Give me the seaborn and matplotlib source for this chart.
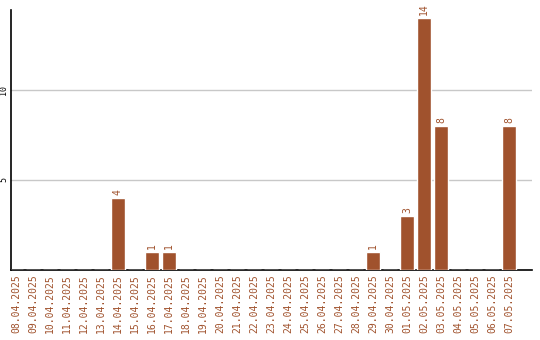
import matplotlib
matplotlib.use("Agg")
import matplotlib.pyplot as plt
import seaborn as sns
import pandas as pd

dates = ["08.04.2025", "09.04.2025", "10.04.2025", "11.04.2025", "12.04.2025",
         "13.04.2025", "14.04.2025", "15.04.2025", "16.04.2025", "17.04.2025",
         "18.04.2025", "19.04.2025", "20.04.2025", "21.04.2025", "22.04.2025",
         "23.04.2025", "24.04.2025", "25.04.2025", "26.04.2025", "27.04.2025",
         "28.04.2025", "29.04.2025", "30.04.2025", "01.05.2025", "02.05.2025",
         "03.05.2025", "04.05.2025", "05.05.2025", "06.05.2025", "07.05.2025"]
values = [0, 0, 0, 0, 0, 0, 4, 0, 1, 1,
          0, 0, 0, 0, 0, 0, 0, 0, 0, 0,
          0, 1, 0, 3, 14, 8, 0, 0, 0, 8]
y_ticks = [5, 10]

color = "#A0522D"
sns.set_style("white")
plt.rcParams['font.family'] = ['DejaVu Sans Mono', 'DejaVu Sans']

df = pd.DataFrame({"date": dates, "value": values})
fig = plt.figure(figsize=(5.4, 3.4), dpi=100)
ax = fig.add_axes([11 / 540, 70 / 340, 521 / 540, 260 / 340])
sns.barplot(data=df, x="date", y="value", color=color, saturation=1,
            width=14 / 17, ax=ax, zorder=3)

ax.set_xlim(-0.29, 30.35)
ax.set_ylim(0, 14.44)
ax.set_yticks(y_ticks)
ax.set_yticklabels([str(t) for t in y_ticks], rotation=90, va="center",
                   fontsize=6, color="black")
ax.yaxis.grid(True, color="#c8c8c8", linewidth=1, zorder=0)
ax.set_axisbelow(True)
ax.tick_params(axis="y", length=0, pad=2)
ax.tick_params(axis="x", length=0, pad=3)
ax.set_xticks(range(len(dates)))
ax.set_xticklabels(dates, rotation=90, fontsize=7, color=color)
ax.set_xlabel("")
ax.set_ylabel("")

for s in ["top", "right"]:
    ax.spines[s].set_visible(False)
for s in ["left", "bottom"]:
    ax.spines[s].set_color("black")
    ax.spines[s].set_linewidth(1.2)

for container in ax.containers:
    labels = [str(v) if v > 0 else "" for v in values]
    ax.bar_label(container, labels=labels, rotation=90, padding=2,
                 fontsize=7, color=color)

fig.savefig("out.png", dpi=100)
